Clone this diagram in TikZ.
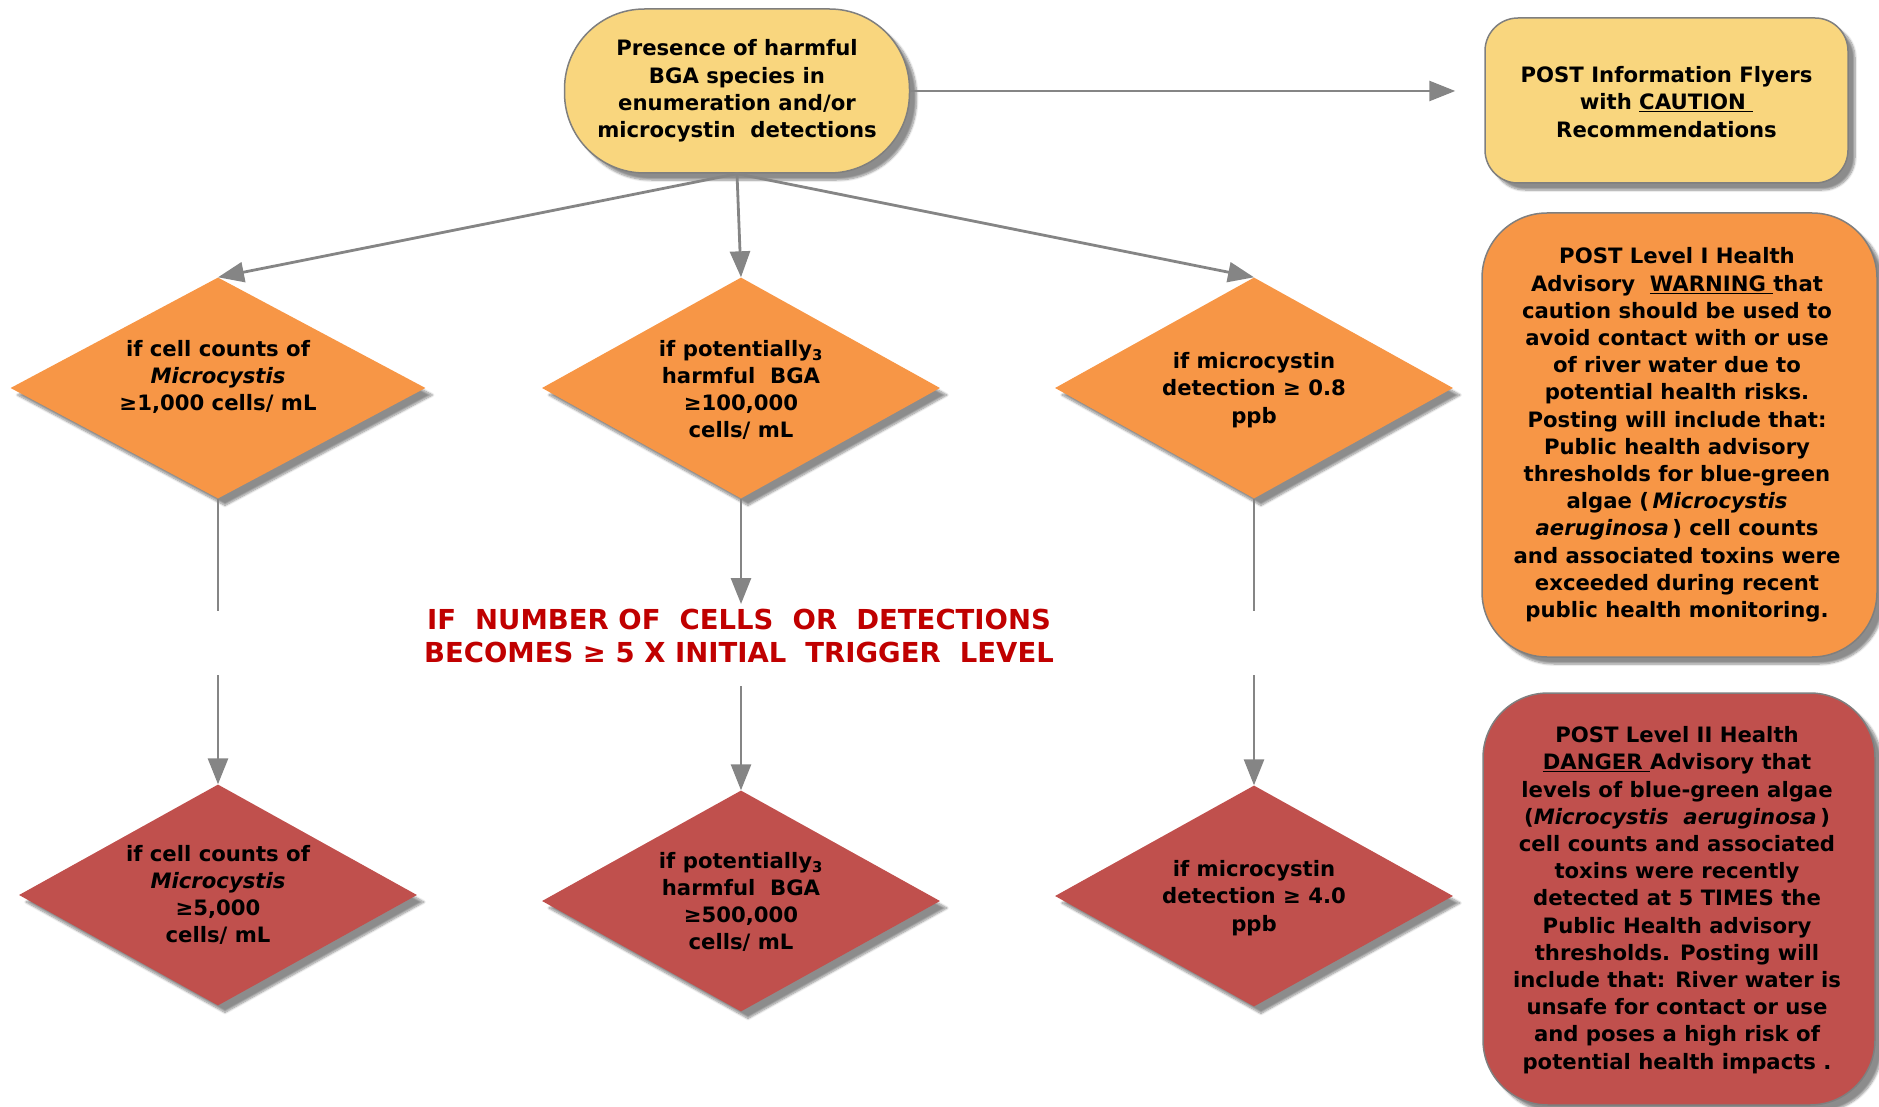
\documentclass[tikz,border=0pt]{standalone}
\usepackage{fontspec}
\setmainfont{DejaVu Sans}
\usetikzlibrary{shapes.geometric,arrows.meta,shadows.blur}
\definecolor{yel}{HTML}{F9D67E}
\definecolor{org}{HTML}{F79646}
\definecolor{rd}{HTML}{C0504D}
\definecolor{redtxt}{HTML}{C00000}
\definecolor{edgec}{HTML}{7F7F7F}
\definecolor{arrc}{HTML}{858585}
\begin{document}
\begin{tikzpicture}[x=1pt,y=-1pt,
  txt/.style={font=\fontsize{21.2}{27.2}\selectfont\bfseries, align=center, text=black, inner sep=0pt},
  shad/.style={blur shadow={shadow xshift=7pt, shadow yshift=-7pt, shadow opacity=45, shadow blur steps=8}},
  dia/.style={diamond, draw=none, inner sep=0pt, shad, minimum width=398pt, minimum height=221pt},
  orgdia/.style={dia, fill=org},
  rddia/.style={dia, fill=rd},
  box/.style={rectangle, draw=edgec, line width=1.5pt, shad, inner sep=0pt},
  conn/.style={draw=arrc, line width=2.8pt},
  arrow/.style={conn, -{Triangle[length=26pt,width=20pt]}}
]
\useasboundingbox (0,0) rectangle (1879,1107);

% top stadium
\node[box, fill=yel, rounded corners=80pt, minimum width=345pt, minimum height=164pt,
      txt] (st) at (737,91)
  {Presence of harmful\\BGA species in\\enumeration and/or\\microcystin\ \ detections};

% right boxes
\node[box, fill=yel, rounded corners=33pt, minimum width=363pt, minimum height=165pt] (tr) at (1666.5,100.5) {};
\node[txt] (trt) at (1666.5,102) {POST Information Flyers\\with \underline{CAUTION\ }\\Recommendations};

\node[box, fill=org, rounded corners=65pt, minimum width=395pt, minimum height=444pt] (l1) at (1679.5,435) {};
\node[txt] (l1t) at (1677,435) {POST Level I Health\\
Advisory\ \ \underline{WARNING\ }that\\
caution should be used to\\
avoid contact with or use\\
of river water due to\\
potential health risks.\\
Posting will include that:\\
Public health advisory\\
thresholds for blue-green\\
algae (\,\textit{Microcystis}\\
\textit{aeruginosa}\,) cell counts\\
and associated toxins were\\
exceeded during recent\\
public health monitoring.};

\node[box, fill=rd, rounded corners=65pt, minimum width=392pt, minimum height=412pt] (l2) at (1679,899) {};
\node[txt] (l2t) at (1677,900) {POST Level II Health\\
\underline{DANGER\ }Advisory that\\
levels of blue-green algae\\
(\textit{Microcystis\ \ aeruginosa}\,)\\
cell counts and associated\\
toxins were recently\\
detected at 5 TIMES the\\
Public Health advisory\\
thresholds. Posting will\\
include that: River water is\\
unsafe for contact or use\\
and poses a high risk of\\
potential health impacts .};

% orange diamonds
\node[orgdia, minimum width=415pt] (d1) at (218,388) {};
\node[orgdia] (d2) at (741,388) {};
\node[orgdia] (d3) at (1254,388) {};
\node[txt] (d1t) at (218,377) {if cell counts of\\\textit{Microcystis}\\≥1,000 cells/ mL};
\node[txt] (d2t) at (741,390) {if potentially\textsubscript{3}\\harmful\ \ BGA\\≥100,000\\cells/ mL};
\node[txt] (d3t) at (1254,390) {if microcystin\\detection ≥ 0.8\\ppb};

% red diamonds
\node[rddia] (d4) at (218,895) {};
\node[rddia] (d5) at (741,901) {};
\node[rddia] (d6) at (1254,896) {};
\node[txt] (d4t) at (218,895) {if cell counts of\\\textit{Microcystis}\\≥5,000\\cells/ mL};
\node[txt] (d5t) at (741,902) {if potentially\textsubscript{3}\\harmful\ \ BGA\\≥500,000\\cells/ mL};
\node[txt] (d6t) at (1254,898) {if microcystin\\detection ≥ 4.0\\ppb};

% red middle text
\node[font=\fontsize{27.5}{33}\selectfont\bfseries, text=redtxt, align=center, inner sep=0pt] (mid) at (739,636)
  {IF\ \ NUMBER OF\ \ CELLS\ \ OR\ \ DETECTIONS\\BECOMES ≥ 5 X INITIAL\ \ TRIGGER\ \ LEVEL};

% connector break points
\coordinate (m1a) at (218,611);
\coordinate (m1b) at (218,675);
\coordinate (m2a) at (741,604);
\coordinate (m2b) at (741,686);
\coordinate (m3a) at (1254,611);
\coordinate (m3b) at (1254,675);

% connectors
\draw[arrow, shorten >=29pt] (st.east) -- (st.east -| tr.west);
\draw[arrow] (st.south) -- (d1.north);
\draw[arrow] (st.south) -- (d2.north);
\draw[arrow] (st.south) -- (d3.north);
\draw[conn] (d1.south) -- (m1a);
\draw[arrow] (m1b) -- (d4.north);
\draw[arrow] (d2.south) -- (m2a);
\draw[arrow] (m2b) -- (d5.north);
\draw[conn] (d3.south) -- (m3a);
\draw[arrow] (m3b) -- (d6.north);
\end{tikzpicture}
\end{document}
